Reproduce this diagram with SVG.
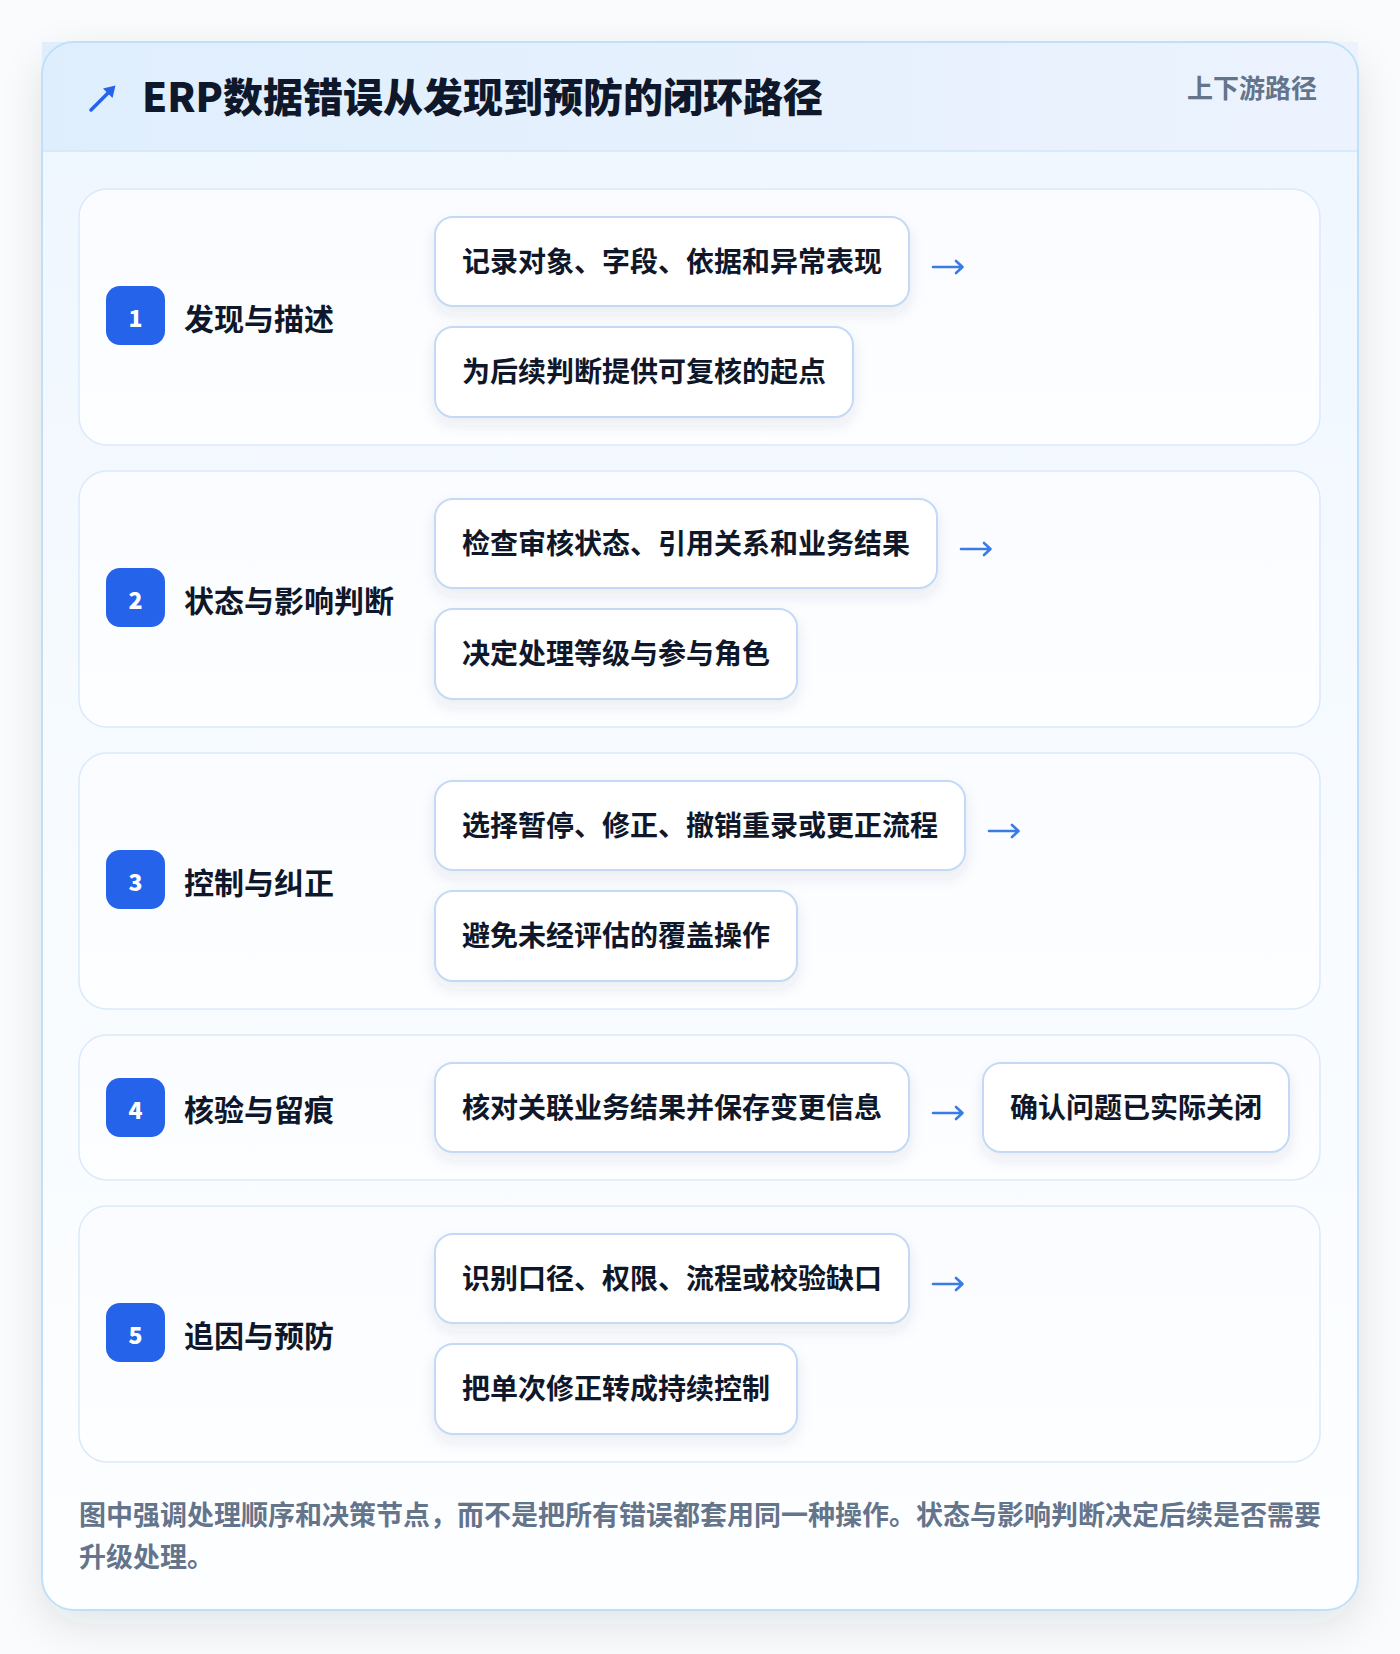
<svg xmlns="http://www.w3.org/2000/svg" width="1400" height="1654" viewBox="0 0 1400 1654">
  <defs>
    <linearGradient id="bodyGrad" x1="0" y1="0" x2="0" y2="1">
      <stop offset="0" stop-color="#eef6ff"/>
      <stop offset="0.5" stop-color="#f7fbff"/>
      <stop offset="1" stop-color="#fdfeff"/>
    </linearGradient>
    <linearGradient id="headGrad" x1="0" y1="0" x2="1" y2="0">
      <stop offset="0" stop-color="#dfeefd"/>
      <stop offset="1" stop-color="#ecf3fe"/>
    </linearGradient>
    <linearGradient id="rowGrad" x1="0" y1="0" x2="0" y2="1">
      <stop offset="0" stop-color="#fafcff"/>
      <stop offset="1" stop-color="#fdfeff"/>
    </linearGradient>
    <filter id="cardShadow" x="-10%" y="-10%" width="120%" height="120%">
      <feDropShadow dx="0" dy="14" stdDeviation="20" flood-color="#1e293b" flood-opacity="0.11"/>
    </filter>
    <filter id="boxShadow" x="-10%" y="-20%" width="120%" height="160%">
      <feDropShadow dx="0" dy="7" stdDeviation="7" flood-color="#334155" flood-opacity="0.09"/>
    </filter>
  </defs>
  <style>
    .row { fill: url(#rowGrad); stroke: #dbe9fb; stroke-width: 1.5; }
    .box { fill: #ffffff; stroke: #c3d9f6; stroke-width: 2; filter: url(#boxShadow); }
    .badge { fill: #2563eb; }
    .num { fill: #ffffff; font-family: "Noto Sans CJK SC", "Noto Sans", sans-serif; font-size: 23px; font-weight: 800; text-anchor: middle; }
    .label { fill: #0f172a; font-family: "Noto Sans CJK SC", "Noto Sans", sans-serif; font-size: 30px; font-weight: 700; }
    .btxt { fill: #0f172a; font-family: "Noto Sans CJK SC", "Noto Sans", sans-serif; font-size: 28px; font-weight: 700; }
    .arrow { fill: none; stroke: #3b7be6; stroke-width: 2.6; stroke-linecap: round; stroke-linejoin: round; }
    .foot { fill: #64748b; font-family: "Noto Sans CJK SC", "Noto Sans", sans-serif; font-size: 27px; font-weight: 700; }
  </style>

  <rect x="0" y="0" width="1400" height="1654" fill="#fafbfc"/>

  <g id="frame">
    <rect x="42" y="42" width="1316" height="1568" rx="32" fill="url(#bodyGrad)" filter="url(#cardShadow)"/>
    <rect x="42" y="42" width="1316" height="109" fill="url(#headGrad)"/>
    <line x1="42" y1="151" x2="1358" y2="151" stroke="#d5e6fa" stroke-width="1.5"/>
    <rect x="42" y="42" width="1316" height="1568" rx="32" fill="none" stroke="#bfe0f8" stroke-width="2"/>
  </g>

  <g id="header">
    <path d="M91 110 L110 91" stroke="#2563eb" stroke-width="3.5" stroke-linecap="round" fill="none"/>
    <path d="M115.5 85.5 L103 88.5 L112.5 98 Z" fill="#2563eb"/>
    <text x="142" y="112" fill="#0f172a" font-family="'Noto Sans CJK SC', 'Noto Sans', sans-serif" font-size="40" font-weight="900">ERP数据错误从发现到预防的闭环路径</text>
    <text x="1317" y="98" fill="#64748b" font-family="'Noto Sans CJK SC', 'Noto Sans', sans-serif" font-size="26" font-weight="700" text-anchor="end">上下游路径</text>
  </g>

  <g id="step1">
    <rect class="row" x="79" y="189" width="1241" height="256" rx="28"/>
    <rect class="badge" x="106" y="286" width="59" height="59" rx="14"/>
    <text class="num" x="135.5" y="327">1</text>
    <text class="label" x="184" y="330">发现与描述</text>
    <rect class="box" x="435" y="217" width="474" height="89" rx="18"/>
    <text class="btxt" x="462" y="272">记录对象、字段、依据和异常表现</text>
    <rect class="box" x="435" y="327" width="418" height="90" rx="18"/>
    <text class="btxt" x="462" y="382">为后续判断提供可复核的起点</text>
  </g>

  <g id="step2">
    <rect class="row" x="79" y="471" width="1241" height="256" rx="28"/>
    <rect class="badge" x="106" y="568" width="59" height="59" rx="14"/>
    <text class="num" x="135.5" y="609">2</text>
    <text class="label" x="184" y="612">状态与影响判断</text>
    <rect class="box" x="435" y="499" width="502" height="89" rx="18"/>
    <text class="btxt" x="462" y="554">检查审核状态、引用关系和业务结果</text>
    <rect class="box" x="435" y="609" width="362" height="90" rx="18"/>
    <text class="btxt" x="462" y="664">决定处理等级与参与角色</text>
  </g>

  <g id="step3">
    <rect class="row" x="79" y="753" width="1241" height="256" rx="28"/>
    <rect class="badge" x="106" y="850" width="59" height="59" rx="14"/>
    <text class="num" x="135.5" y="891">3</text>
    <text class="label" x="184" y="894">控制与纠正</text>
    <rect class="box" x="435" y="781" width="530" height="89" rx="18"/>
    <text class="btxt" x="462" y="836">选择暂停、修正、撤销重录或更正流程</text>
    <rect class="box" x="435" y="891" width="362" height="90" rx="18"/>
    <text class="btxt" x="462" y="946">避免未经评估的覆盖操作</text>
  </g>

  <g id="step4">
    <rect class="row" x="79" y="1035" width="1241" height="145" rx="28"/>
    <rect class="badge" x="106" y="1078" width="59" height="59" rx="14"/>
    <text class="num" x="135.5" y="1119">4</text>
    <text class="label" x="184" y="1121">核验与留痕</text>
    <rect class="box" x="435" y="1063" width="474" height="89" rx="18"/>
    <text class="btxt" x="462" y="1118">核对关联业务结果并保存变更信息</text>
    <rect class="box" x="983" y="1063" width="306" height="89" rx="18"/>
    <text class="btxt" x="1010" y="1118">确认问题已实际关闭</text>
  </g>

  <g id="step5">
    <rect class="row" x="79" y="1206" width="1241" height="256" rx="28"/>
    <rect class="badge" x="106" y="1303" width="59" height="59" rx="14"/>
    <text class="num" x="135.5" y="1344">5</text>
    <text class="label" x="184" y="1347">追因与预防</text>
    <rect class="box" x="435" y="1234" width="474" height="89" rx="18"/>
    <text class="btxt" x="462" y="1289">识别口径、权限、流程或校验缺口</text>
    <rect class="box" x="435" y="1344" width="362" height="90" rx="18"/>
    <text class="btxt" x="462" y="1399">把单次修正转成持续控制</text>
  </g>

  <g id="connectors">
    <path class="arrow" d="M933 267 H962 M956 261 L962.5 267 L956 273"/>
    <path class="arrow" d="M961 549 H990 M984 543 L990.5 549 L984 555"/>
    <path class="arrow" d="M989 831 H1018 M1012 825 L1018.5 831 L1012 837"/>
    <path class="arrow" d="M933 1113 H962 M956 1107 L962.5 1113 L956 1119"/>
    <path class="arrow" d="M933 1284 H962 M956 1278 L962.5 1284 L956 1290"/>
  </g>

  <g id="footnote">
    <text class="foot" x="79" y="1525">图中强调处理顺序和决策节点，而不是把所有错误都套用同一种操作。状态与影响判断决定后续是否需要</text>
    <text class="foot" x="79" y="1567">升级处理。</text>
  </g>
</svg>
